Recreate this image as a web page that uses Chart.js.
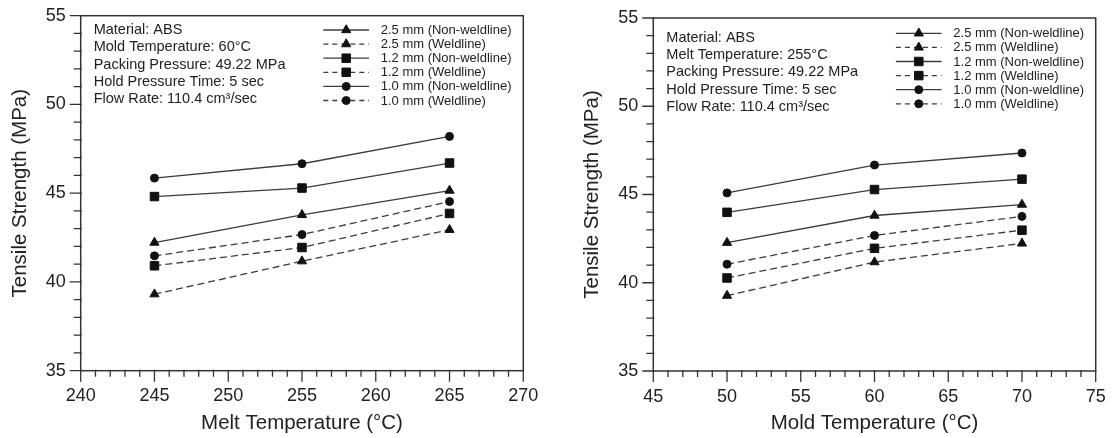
<!DOCTYPE html>
<html lang="en">
<head>
<meta charset="utf-8">
<script src="https://cdn.jsdelivr.net/npm/chart.js"></script>
<style>
  html, body { margin: 0; background: #fff; }
  #wrap { position: relative; width: 1112px; height: 438px; overflow: hidden; }
  #melt { position: absolute; left: 0; top: 0; }
  #mold { position: absolute; left: 572px; top: 0; }
</style>
</head>
<body>
<div id="wrap">
  <canvas id="melt" width="556" height="438"></canvas>
  <canvas id="mold" width="540" height="438"></canvas>
</div>
<script>
// tensile strength (MPa) vs melt temperature
const meltTemp = [245, 255, 265];
const meltNonWeld25 = [42.22, 43.78, 45.15];
const meltWeld25 = [39.31, 41.17, 42.94];
const meltNonWeld12 = [44.81, 45.29, 46.7];
const meltWeld12 = [40.91, 41.94, 43.86];
const meltNonWeld10 = [45.85, 46.66, 48.2];
const meltWeld10 = [41.47, 42.67, 44.53];

// tensile strength (MPa) vs mold temperature
const moldTemp = [50, 60, 70];
const moldNonWeld25 = [42.27, 43.81, 44.43];
const moldWeld25 = [39.27, 41.17, 42.23];
const moldNonWeld12 = [43.99, 45.28, 45.87];
const moldWeld12 = [40.27, 41.95, 42.98];
const moldNonWeld10 = [45.09, 46.67, 47.35];
const moldWeld10 = [41.05, 42.68, 43.76];

const seriesLabels = [
  '2.5 mm (Non-weldline)', '2.5 mm (Weldline)',
  '1.2 mm (Non-weldline)', '1.2 mm (Weldline)',
  '1.0 mm (Non-weldline)', '1.0 mm (Weldline)'
];
const meltNotes = [
  'Material: ABS', 'Mold Temperature: 60\u00B0C', 'Packing Pressure: 49.22 MPa',
  'Hold Pressure Time: 5 sec', 'Flow Rate: 110.4 cm\u00B3/sec'
];
const moldNotes = [
  'Material: ABS', 'Melt Temperature: 255\u00B0C', 'Packing Pressure: 49.22 MPa',
  'Hold Pressure Time: 5 sec', 'Flow Rate: 110.4 cm\u00B3/sec'
];

const FONT = '"Liberation Sans", Arial, Helvetica, sans-serif';
const INK = '#222';
const LINE = '#3c3c3c';

// marker look for each series, same order as seriesLabels
const marks = [
  { style: 'triangle', r: 5.3, dash: [] },
  { style: 'triangle', r: 5.3, dash: [7, 4] },
  { style: 'rect', r: 6, dash: [] },
  { style: 'rect', r: 6, dash: [7, 4] },
  { style: 'circle', r: 4, dash: [] },
  { style: 'circle', r: 4, dash: [7, 4] }
];

function makeDatasets(xs, series) {
  return series.map((ys, i) => ({
    label: seriesLabels[i],
    data: xs.map((x, j) => ({ x: x, y: ys[j] })),
    borderColor: LINE,
    borderWidth: 1.3,
    borderDash: marks[i].dash,
    pointStyle: marks[i].style,
    pointRadius: marks[i].r,
    pointHoverRadius: marks[i].r,
    pointBackgroundColor: '#111',
    pointBorderColor: '#111',
    pointBorderWidth: 1,
    tension: 0,
    fill: false
  }));
}

// box frame, outward ticks, key and the process notes
const panelPlugin = {
  id: 'panel',
  afterDraw(chart, args, opts) {
    const ctx = chart.ctx;
    const a = chart.chartArea;
    const xs = chart.scales.x, ys = chart.scales.y;
    ctx.save();
    ctx.strokeStyle = '#333';
    ctx.lineWidth = 1.5;
    ctx.strokeRect(a.left, a.top, a.right - a.left, a.bottom - a.top);

    ctx.lineWidth = 1.3;
    ctx.beginPath();
    for (let v = xs.min; v <= xs.max; v++) {
      const px = xs.getPixelForValue(v);
      const len = v % 5 === 0 ? 11 : 6;
      ctx.moveTo(px, a.bottom - 1);
      ctx.lineTo(px, a.bottom + len);
    }
    for (let v = ys.min; v <= ys.max; v++) {
      const py = ys.getPixelForValue(v);
      const len = v % 5 === 0 ? 11 : 7;
      ctx.moveTo(a.left + 1, py);
      ctx.lineTo(a.left - len, py);
    }
    ctx.stroke();

    // notes
    ctx.fillStyle = INK;
    ctx.font = '14.5px ' + FONT;
    ctx.textBaseline = 'middle';
    ctx.textAlign = 'left';
    opts.notes.forEach((t, i) => {
      ctx.fillText(t, a.left + 13, a.top + opts.notesTop + i * 17.3);
    });

    // key
    ctx.font = '13px ' + FONT;
    seriesLabels.forEach((t, i) => {
      const y = a.top + opts.keyTop + i * 14.1;
      ctx.strokeStyle = LINE;
      ctx.lineWidth = 1.3;
      ctx.setLineDash(i % 2 ? [5, 4] : []);
      ctx.beginPath();
      ctx.moveTo(a.left + 242.6, y);
      ctx.lineTo(a.left + 288.3, y);
      ctx.stroke();
      ctx.setLineDash([]);
      ctx.fillStyle = '#111';
      ctx.strokeStyle = '#111';
      ctx.lineWidth = 1;
      Chart.helpers.drawPoint(ctx, { pointStyle: marks[i].style, radius: marks[i].r, rotation: 0, borderWidth: 1 }, a.left + 265.5, y);
      ctx.fillStyle = INK;
      ctx.fillText(t, a.left + 300, y + 0.5);
    });
    ctx.restore();
  }
};

function makeChart(id, cfg) {
  const canvas = document.getElementById(id);
  return new Chart(canvas, {
    type: 'line',
    data: { datasets: makeDatasets(cfg.xs, cfg.series) },
    plugins: [panelPlugin],
    options: {
      responsive: false,
      animation: false,
      events: [],
      layout: { padding: { left: 0, top: cfg.area.top, right: canvas.width - cfg.area.right, bottom: 0 } },
      plugins: {
        legend: { display: false },
        tooltip: { enabled: false },
        panel: { notes: cfg.notes, notesTop: cfg.notesTop, keyTop: cfg.keyTop }
      },
      scales: {
        x: {
          type: 'linear',
          min: cfg.xMin, max: cfg.xMax,
          grid: { display: false, drawTicks: false },
          border: { display: false },
          ticks: {
            stepSize: 1, autoSkip: false, maxRotation: 0, padding: 15,
            color: INK, font: { family: FONT, size: 18 },
            callback: v => (v % 5 === 0 ? v : '')
          },
          title: {
            display: true, text: cfg.xTitle, color: INK,
            font: { family: FONT, size: 20.5 }, padding: { top: 0, bottom: 2 }
          },
          afterFit: s => {
            s.height = 438 - cfg.area.bottom;
            s.paddingLeft = 0;
            s.paddingRight = 0;
          }
        },
        y: {
          min: 35, max: 55,
          grid: { display: false, drawTicks: false },
          border: { display: false },
          ticks: {
            stepSize: 1, autoSkip: false, padding: 15,
            color: INK, font: { family: FONT, size: 18 },
            callback: v => (v % 5 === 0 ? v : '')
          },
          title: {
            display: true, text: 'Tensile Strength (MPa)', color: INK,
            font: { family: FONT, size: 20.5 }, padding: { top: 8, bottom: 0 }
          },
          afterFit: s => {
            s.width = cfg.area.left;
            s.paddingTop = 0;
            s.paddingBottom = 0;
          }
        }
      }
    }
  });
}

makeChart('melt', {
  xs: meltTemp,
  series: [meltNonWeld25, meltWeld25, meltNonWeld12, meltWeld12, meltNonWeld10, meltWeld10],
  xMin: 240, xMax: 270,
  xTitle: 'Melt Temperature (\u00B0C)',
  notes: meltNotes, notesTop: 14.3, keyTop: 14.3,
  area: { left: 80.7, right: 523.3, top: 15.7, bottom: 370.7 }
});

makeChart('mold', {
  xs: moldTemp,
  series: [moldNonWeld25, moldWeld25, moldNonWeld12, moldWeld12, moldNonWeld10, moldWeld10],
  xMin: 45, xMax: 75,
  xTitle: 'Mold Temperature (\u00B0C)',
  notes: moldNotes, notesTop: 19.7, keyTop: 15.3,
  area: { left: 81.3, right: 523.7, top: 18, bottom: 371 }
});
</script>
</body>
</html>
